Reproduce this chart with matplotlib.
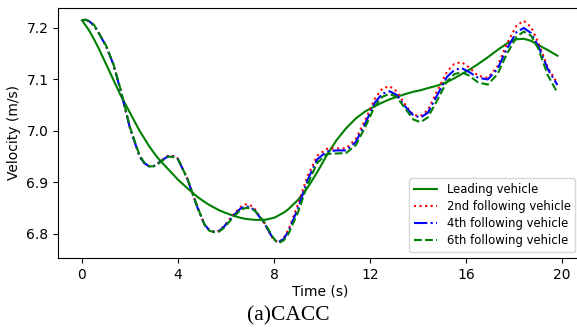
import matplotlib
matplotlib.use("Agg")
from matplotlib import pyplot as plt

t = [0, 0.15, 0.3, 0.5, 0.7, 1.0, 1.3, 1.6, 2.0, 2.4, 2.6, 2.8, 3.0, 3.2, 3.4, 3.6, 3.8,
     4.0, 4.4, 4.8, 5.1, 5.3, 5.5, 5.7, 5.9, 6.3, 6.6, 6.8, 7.0, 7.2, 7.6, 7.9, 8.05,
     8.2, 8.4, 8.6, 9.0, 9.4, 9.8, 10.2, 10.6, 11.0, 11.4, 11.8, 12.2, 12.5, 12.8, 13.1,
     13.5, 13.8, 14.1, 14.4, 14.8, 15.2, 15.5, 15.8, 16.1, 16.5, 16.9, 17.3, 17.7,
     18.1, 18.4, 18.7, 19.0, 19.4, 19.8]

lider = [7.215, 7.205, 7.195, 7.178, 7.16, 7.13, 7.1, 7.07, 7.035, 7.0, 6.985, 6.97,
         6.957, 6.945, 6.935, 6.925, 6.915, 6.905, 6.888, 6.872, 6.862, 6.856, 6.851,
         6.846, 6.842, 6.835, 6.831, 6.829, 6.828, 6.827, 6.827, 6.83, 6.832, 6.836,
         6.841, 6.848, 6.866, 6.89, 6.92, 6.953, 6.982, 7.005, 7.024, 7.038, 7.048,
         7.055, 7.061, 7.066, 7.072, 7.076, 7.079, 7.083, 7.088, 7.095, 7.102, 7.11,
         7.118, 7.13, 7.143, 7.157, 7.17, 7.178, 7.179, 7.175, 7.167, 7.157, 7.146]

seg2 = [7.215, 7.216, 7.213, 7.205, 7.19, 7.165, 7.13, 7.08, 7.005, 6.95, 6.937, 6.931,
        6.932, 6.938, 6.946, 6.952, 6.951, 6.946, 6.906, 6.853, 6.818, 6.807, 6.804,
        6.806, 6.814, 6.837, 6.852, 6.857, 6.856, 6.848, 6.82, 6.794, 6.786, 6.783,
        6.792, 6.808, 6.858, 6.913, 6.952, 6.965, 6.966, 6.966, 6.984, 7.022, 7.063,
        7.082, 7.087, 7.077, 7.048, 7.031, 7.029, 7.04, 7.078, 7.115, 7.13, 7.134,
        7.124, 7.107, 7.103, 7.125, 7.17, 7.205, 7.214, 7.202, 7.172, 7.123, 7.092]

seg4 = [7.215, 7.216, 7.213, 7.205, 7.19, 7.165, 7.13, 7.08, 7.005, 6.95, 6.937, 6.931,
        6.932, 6.938, 6.945, 6.951, 6.95, 6.945, 6.905, 6.852, 6.818, 6.807, 6.804,
        6.805, 6.813, 6.835, 6.849, 6.853, 6.852, 6.845, 6.82, 6.795, 6.787, 6.784,
        6.79, 6.805, 6.85, 6.905, 6.945, 6.96, 6.962, 6.962, 6.978, 7.015, 7.055,
        7.072, 7.077, 7.07, 7.045, 7.03, 7.026, 7.035, 7.07, 7.105, 7.118, 7.122,
        7.115, 7.103, 7.1, 7.12, 7.16, 7.192, 7.2, 7.19, 7.165, 7.12, 7.089]

seg6 = [7.215, 7.216, 7.213, 7.206, 7.19, 7.166, 7.131, 7.082, 7.007, 6.952, 6.938,
        6.931, 6.931, 6.937, 6.944, 6.95, 6.949, 6.945, 6.906, 6.853, 6.818, 6.806,
        6.803, 6.804, 6.811, 6.832, 6.846, 6.85, 6.85, 6.845, 6.822, 6.797, 6.787,
        6.782, 6.787, 6.8, 6.842, 6.897, 6.938, 6.955, 6.956, 6.957, 6.972, 7.008,
        7.048, 7.066, 7.072, 7.066, 7.041, 7.022, 7.017, 7.026, 7.06, 7.096, 7.11,
        7.114, 7.108, 7.094, 7.09, 7.11, 7.15, 7.183, 7.193, 7.185, 7.16, 7.108, 7.074]

fig = plt.figure(figsize=(5.77, 3.29), dpi=100)
ax = fig.add_axes([0.1009, 0.216, 0.9064, 0.76])

ax.plot(t, lider, color="green", linestyle="-", label="Leading vehicle")
ax.plot(t, seg2, color="red", linestyle=":", label="2nd following vehicle")
ax.plot(t, seg4, color="blue", linestyle="-.", label="4th following vehicle")
ax.plot(t, seg6, color="green", linestyle="--", label="6th following vehicle")

ax.set_xticks([0, 4, 8, 12, 16, 20])
ax.set_yticks([6.8, 6.9, 7.0, 7.1, 7.2])
ax.set_xlim(-0.99, 20.79)
ax.set_ylim(6.753, 7.239)
ax.set_xlabel("Time (s)", labelpad=2)
ax.set_ylabel("Velocity (m/s)")
ax.legend(loc="lower right", fontsize=8.4, labelspacing=0.36)

fig.text(0.5, 0.025, "(a)CACC", ha="center", fontsize=15.5, family="Liberation Serif")

fig.savefig("out.png", dpi=100)
